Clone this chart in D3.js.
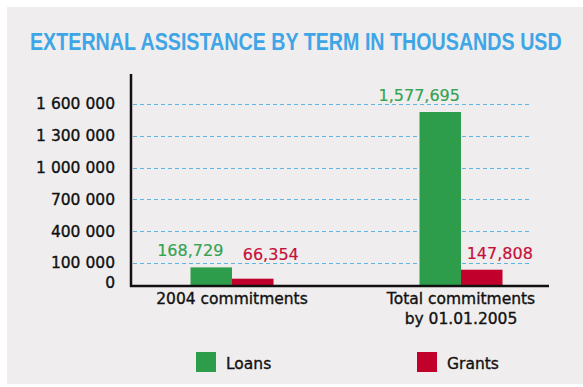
<!DOCTYPE html>
<meta charset="utf-8"/>
<style>
  body { margin: 0; background: #fff; }
  svg text { font-family: "DejaVu Sans", sans-serif; }
  .grid line { stroke: #5fb2e6; stroke-width: 1; stroke-dasharray: 4 3; }
</style>
<svg width="583" height="387"></svg>
<script src="https://d3js.org/d3.v7.min.js"></script>
<script>

  // data
  var categories = ["2004 commitments", "Total commitments|by 01.01.2005"];
  var series = ["Loans", "Grants"];
  var loans = [168729, 1577695];
  var grants = [66354, 147808];
  var tickValues = [0, 100000, 400000, 700000, 1000000, 1300000, 1600000];

  var colors = { Loans: "#2e9d4b", Grants: "#c2002c" };
  var labelColors = { Loans: "#35a352", Grants: "#c5103a" };

  var svg = d3.select("svg");

  // background panel
  svg.append("rect")
    .attr("x", 7).attr("y", 7)
    .attr("width", 576).attr("height", 377)
    .attr("fill", "#efeded");

  // title, squeezed horizontally to the reference width (condensed look)
  var title = svg.append("text")
    .attr("x", 0).attr("y", 0)
    .style("font-family", "'Liberation Sans', sans-serif")
    .style("font-weight", "bold")
    .style("font-size", "24px")
    .attr("fill", "#3ea5e6")
    .text("EXTERNAL ASSISTANCE BY TERM IN THOUSANDS USD");
  var tl = title.node().getComputedTextLength();
  title.attr("transform", "translate(30,50) scale(" + (532 / tl).toFixed(4) + ",1)");

  // bars use a plain linear scale, axis labels sit on their own (uneven) scale
  var y = d3.scaleLinear().domain([0, 1577695]).range([286, 112]);
  var yTick = d3.scaleLinear().domain([0, 100000, 1600000]).range([286, 263, 104]);

  var x0 = d3.scaleBand().domain(categories).range([117.5, 575.5]);
  var x1 = d3.scaleBand().domain(series).range([0, 83]);

  var fmtTick = d3.formatLocale({ decimal: ".", thousands: " ", grouping: [3], currency: ["", ""] }).format(",");
  var fmtVal = d3.format(",");

  // gridlines
  svg.append("g").attr("class", "grid")
    .selectAll("line")
    .data(tickValues.filter(function (d) { return d > 0; }))
    .enter().append("line")
    .attr("x1", 133).attr("x2", 532)
    .attr("y1", function (d) { return Math.round(yTick(d)) + 0.5; })
    .attr("y2", function (d) { return Math.round(yTick(d)) + 0.5; });

  // y axis labels
  var yAxis = d3.axisLeft(yTick).tickValues(tickValues).tickFormat(fmtTick).tickSize(0).tickPadding(0);
  var gy = svg.append("g")
    .attr("transform", "translate(115,0)")
    .call(yAxis);
  gy.select(".domain").remove();
  gy.selectAll(".tick").filter(function (d) { return d === 0; })
    .attr("transform", "translate(0,283)");
  gy.selectAll("text")
    .attr("font-family", null).attr("font-size", null)
    .style("font-size", "15.5px")
    .attr("fill", "#111").attr("stroke", "#111").attr("stroke-width", 0.35);

  // bars
  var groups = svg.append("g").selectAll("g")
    .data(categories)
    .enter().append("g")
    .attr("transform", function (d) { return "translate(" + (x0(d) + x0.bandwidth() / 2 - 41.5) + ",0)"; });

  groups.selectAll("rect")
    .data(function (d, i) { return [{ s: "Loans", v: loans[i] }, { s: "Grants", v: grants[i] }]; })
    .enter().append("rect")
    .attr("x", function (d) { return x1(d.s); })
    .attr("width", x1.bandwidth())
    .attr("y", function (d) { return y(d.v); })
    .attr("height", function (d) { return y(0) - y(d.v); })
    .attr("fill", function (d) { return colors[d.s]; });

  groups.selectAll(".val")
    .data(function (d, i) { return [{ s: "Loans", v: loans[i] }, { s: "Grants", v: grants[i] }]; })
    .enter().append("text")
    .attr("class", "val")
    .attr("x", function (d) { return x1(d.s) + x1.bandwidth() / 2 + (d.s === "Loans" ? -21 : 18); })
    .attr("y", function (d) { return Math.min(y(d.v) - 11, 260); })
    .attr("text-anchor", "middle")
    .style("font-size", "16px")
    .attr("fill", function (d) { return labelColors[d.s]; })
    .attr("stroke", function (d) { return labelColors[d.s]; })
    .attr("stroke-width", 0.2)
    .text(function (d) { return fmtVal(d.v); });

  // axes lines
  svg.append("line").attr("x1", 131).attr("x2", 131).attr("y1", 74).attr("y2", 287)
    .attr("stroke", "#111").attr("stroke-width", 2.5);
  svg.append("line").attr("x1", 130).attr("x2", 549).attr("y1", 286).attr("y2", 286)
    .attr("stroke", "#111").attr("stroke-width", 2.5);

  // category labels
  svg.append("g").selectAll("text")
    .data(categories)
    .enter().append("text")
    .attr("text-anchor", "middle")
    .attr("x", function (d) { return x0(d) + x0.bandwidth() / 2; })
    .attr("y", 304)
    .style("font-size", "15.5px")
    .attr("fill", "#111").attr("stroke", "#111").attr("stroke-width", 0.35)
    .each(function (d) {
      var lines = d.split("|");
      var t = d3.select(this);
      lines.forEach(function (l, i) {
        t.append("tspan").attr("x", t.attr("x")).attr("dy", i ? 20 : 0).text(l);
      });
    });

  // legend
  var legendX = { Loans: 196, Grants: 417 };
  var leg = svg.append("g").selectAll("g")
    .data(series)
    .enter().append("g")
    .attr("transform", function (d) { return "translate(" + legendX[d] + ",352)"; });
  leg.append("rect").attr("width", 20).attr("height", 20)
    .attr("fill", function (d) { return colors[d]; });
  leg.append("text").attr("x", 30).attr("y", 17)
    .style("font-size", "15.5px").attr("fill", "#111")
    .attr("stroke", "#111").attr("stroke-width", 0.35)
    .text(function (d) { return d; });

</script>
